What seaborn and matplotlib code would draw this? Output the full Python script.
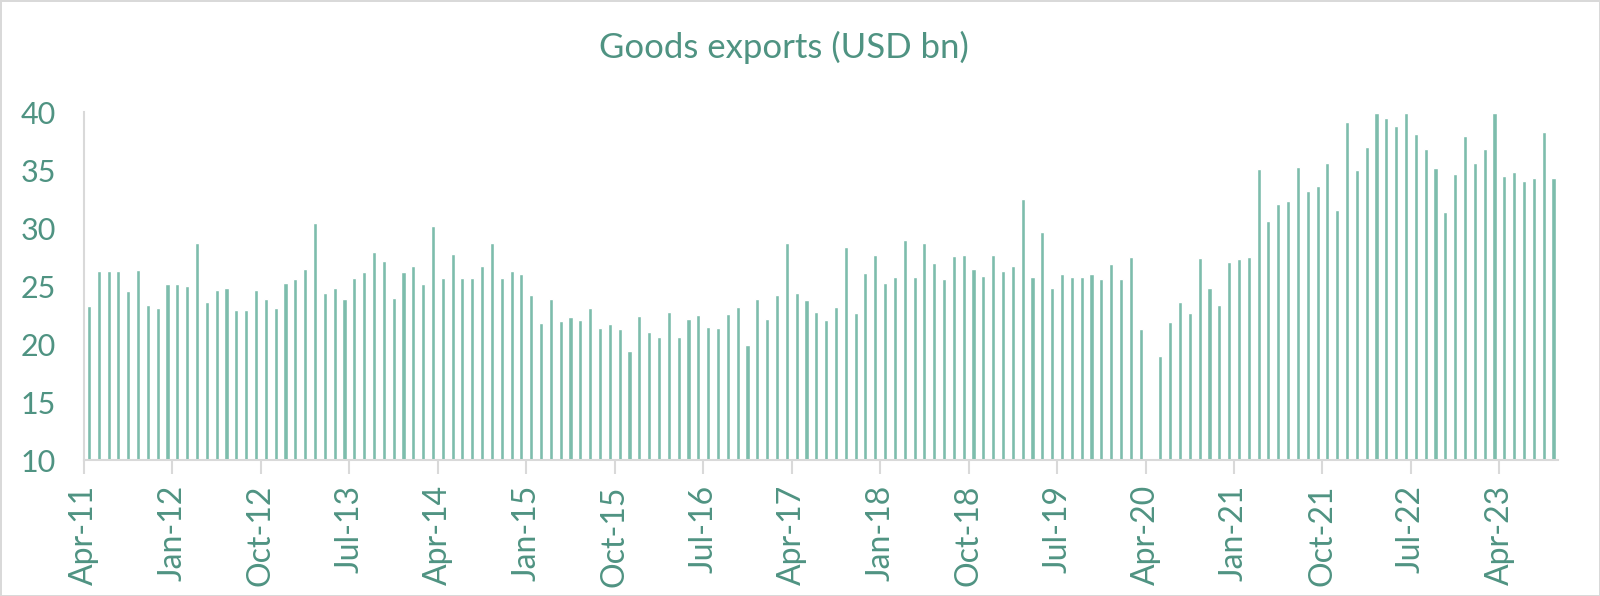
import pandas as pd
import matplotlib.pyplot as plt
import matplotlib.transforms as mtransforms
import seaborn as sns

# Goods exports, monthly, Apr-2011 .. Sep-2023 (USD bn)
months = pd.date_range('2011-04-01', periods=150, freq='MS')
month_labels = [m.strftime('%b-%y') for m in months]

exports_2011_2013 = [
    23.3, 26.3, 26.3, 26.3, 24.6, 26.4, 23.4, 23.1, 25.2, 25.2, 25.0, 28.7,
    23.6, 24.7, 24.8, 22.9, 22.9, 24.7, 23.9, 23.1, 25.3, 25.6, 26.5, 30.4,
    24.4, 24.8, 23.9, 25.7, 26.2, 27.9, 27.2, 24.0, 26.2, 26.7, 25.2, 30.2,
]
exports_2014_2016 = [
    25.7, 27.8, 25.7, 25.7, 26.7, 28.7, 25.7, 26.3, 26.0, 24.2, 21.8, 23.9,
    22.0, 22.3, 22.1, 23.1, 21.4, 21.7, 21.3, 19.4, 22.4, 21.0, 20.6, 22.8,
    20.6, 22.2, 22.5, 21.5, 21.4, 22.6, 23.2, 19.9, 23.9, 22.2, 24.2, 28.7,
]
exports_2017_2019 = [
    24.4, 23.8, 22.8, 22.1, 23.2, 28.4, 22.7, 26.1, 27.7, 25.3, 25.8, 29.0,
    25.8, 28.7, 27.0, 25.6, 27.6, 27.7, 26.5, 25.9, 27.7, 26.3, 26.7, 32.5,
    25.8, 29.7, 24.8, 26.0, 25.8, 25.8, 26.0, 25.6, 26.9, 25.6, 27.5, 21.3,
]
exports_2020_2023 = [
    10.1, 19.0, 21.9, 23.6, 22.7, 27.4, 24.8, 23.4, 27.1, 27.3, 27.5, 35.1,
    30.6, 32.1, 32.3, 35.3, 33.2, 33.6, 35.6, 31.6, 39.1, 35.0, 37.0, 39.9,
    39.5, 38.8, 39.9, 38.1, 36.8, 35.2, 31.4, 34.7, 37.9, 35.6, 36.8, 39.9,
    34.5, 34.8, 34.1, 34.3, 38.3, 34.3,
]
exports = exports_2011_2013 + exports_2014_2016 + exports_2017_2019 + exports_2020_2023

y_ticks = [10, 15, 20, 25, 30, 35, 40]

bar_color = '#7dbdac'
text_color = '#4f9382'
axis_color = '#d9d9d9'

sns.set_theme(style="white")
plt.rcParams['font.family'] = ['Lato', 'DejaVu Sans']

df = pd.DataFrame({'month': month_labels, 'exports': exports})

fig = plt.figure(figsize=(16, 5.96), dpi=100)
fig.patch.set_edgecolor(axis_color)
fig.patch.set_linewidth(2)
ax = fig.add_axes([0.0525, 0.228, 0.9215, 0.584])

sns.barplot(data=df, x='month', y='exports', color=bar_color, width=0.42,
            saturation=1, ax=ax)

ax.set_ylim(10, 40)
ax.set_xlim(-0.5, len(exports) - 0.5)
ax.set_yticks(y_ticks)
ax.set_yticklabels([str(t) for t in y_ticks])

tick_pos = [i - 0.5 for i in range(0, len(exports), 9)]
ax.set_xticks(tick_pos)
ax.set_xticklabels([month_labels[i] for i in range(0, len(exports), 9)],
                   rotation=90)
offset = mtransforms.ScaledTranslation(4 / 100, 0, fig.dpi_scale_trans)
for lbl in ax.get_xticklabels():
    lbl.set_transform(lbl.get_transform() + offset)

ax.tick_params(axis='x', colors=axis_color, length=10, width=1.5, pad=8,
               labelcolor=text_color, labelsize=23, bottom=True)
ax.tick_params(axis='y', length=0, pad=20, labelcolor=text_color, labelsize=22)

for side in ['top', 'right']:
    ax.spines[side].set_visible(False)
for side in ['left', 'bottom']:
    ax.spines[side].set_color(axis_color)
    ax.spines[side].set_linewidth(1.5)

ax.set_xlabel('')
ax.set_ylabel('')
fig.text(0.49, 0.92, 'Goods exports (USD bn)', ha='center', va='center',
         fontsize=25, color=text_color)

fig.savefig('out.png', dpi=100)
